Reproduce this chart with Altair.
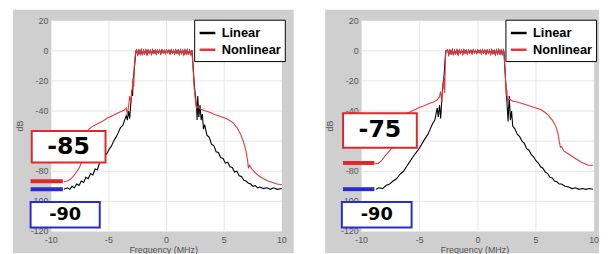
import altair as alt
import pandas as pd

# ---------------- data ----------------
SERIES = ["Linear", "Nonlinear"]
FREQ_TICKS = [-10, -5, 0, 5, 10]
DB_TICKS = [20, 0, -20, -40, -60, -80, -100, -120]
GRID_FREQ = [-5, 0, 5]
GRID_DB = [0, -20, -40, -60, -80, -100]

# passband ripple (shared shape in both panels)
PASSBAND = [(-2.6, 0.5), (-2.5, -2.5), (-2.4, 0.3), (-2.3, -2.0), (-2.2, 0.6), (-2.1, -2.8),
            (-2.0, 0.2), (-1.9, -1.8), (-1.8, 0.5), (-1.7, -2.4), (-1.6, 0.4), (-1.5, -1.6),
            (-1.4, 0.3), (-1.3, -2.2), (-1.2, 0.5), (-1.1, -1.5), (-1.0, 0.2), (-0.9, -2.0),
            (-0.8, 0.4), (-0.7, -1.4), (-0.6, 0.3), (-0.5, -1.9), (-0.4, 0.5), (-0.3, -1.3),
            (-0.2, 0.2), (-0.1, -1.7), (0.0, 0.4), (0.1, -1.2), (0.2, 0.3), (0.3, -1.8),
            (0.4, 0.5), (0.5, -1.4), (0.6, 0.2), (0.7, -2.0), (0.8, 0.4), (0.9, -1.5),
            (1.0, 0.3), (1.1, -2.2), (1.2, 0.5), (1.3, -1.7), (1.4, 0.2), (1.5, -2.4),
            (1.6, 0.4), (1.7, -1.9), (1.8, 0.5), (1.9, -2.6), (2.0, 0.3), (2.1, -2.2), (2.2, 0.4)]

# panel A (left, -85 / -90)
A_LIN_LO = [(-8.9, -92.0), (-8.6, -91.0), (-8.4, -92.0), (-8.2, -90.0), (-8.0, -91.0), (-7.8, -88.5),
            (-7.6, -89.5), (-7.4, -86.5), (-7.2, -87.5), (-7.0, -84.0), (-6.8, -85.0), (-6.6, -81.5),
            (-6.4, -82.5), (-6.2, -78.5), (-6.0, -79.0), (-5.8, -74.0), (-5.6, -73.0), (-5.4, -70.0),
            (-5.2, -68.5), (-5.0, -65.5), (-4.8, -63.5), (-4.6, -60.0), (-4.4, -57.5), (-4.2, -54.5),
            (-4.0, -51.0), (-3.8, -49.5), (-3.6, -45.0), (-3.5, -43.0), (-3.4, -46.0), (-3.3, -40.0),
            (-3.2, -45.0), (-3.1, -34.0), (-3.0, -26.0), (-2.95, -30.0), (-2.9, -20.0), (-2.8, -12.0),
            (-2.7, -3.0), (-2.65, 0.0)]
A_LIN_HI = [(2.3, -10.0), (2.4, -22.0), (2.5, -30.0), (2.6, -38.0), (2.65, -46.0), (2.7, -30.0),
            (2.8, -44.0), (2.9, -36.0), (3.0, -46.0), (3.1, -42.0), (3.2, -52.0), (3.3, -49.0),
            (3.5, -56.0), (3.7, -57.5), (3.9, -62.0), (4.1, -63.0), (4.3, -67.0), (4.5, -67.5),
            (4.7, -71.0), (4.9, -71.5), (5.1, -74.5), (5.3, -74.0), (5.5, -77.0), (5.7, -77.5),
            (5.9, -80.5), (6.1, -80.0), (6.3, -83.0), (6.5, -83.5), (6.7, -86.0), (6.9, -86.5),
            (7.1, -88.0), (7.3, -88.5), (7.5, -90.0), (7.7, -89.5), (7.9, -91.0), (8.1, -90.5),
            (8.4, -91.5), (8.7, -91.0), (9.0, -92.0), (9.3, -91.0), (9.6, -92.0), (10.0, -91.5)]
A_NON_LO = [(-8.9, -87.0), (-8.6, -86.5), (-8.3, -85.0), (-8.0, -82.5), (-7.6, -78.0), (-7.3, -73.0),
            (-7.0, -64.0), (-6.75, -52.0), (-6.4, -50.0), (-6.0, -48.5), (-5.6, -47.0), (-5.2, -45.0),
            (-4.8, -43.5), (-4.4, -42.0), (-4.0, -40.5), (-3.7, -39.5), (-3.5, -38.0), (-3.4, -42.0),
            (-3.3, -37.0), (-3.2, -30.0), (-3.1, -35.0), (-3.0, -26.0), (-2.9, -18.0), (-2.85, -24.0),
            (-2.8, -10.0), (-2.7, -2.0), (-2.65, 0.0)]
A_NON_HI = [(2.3, -12.0), (2.4, -25.0), (2.5, -33.0), (2.6, -38.0), (2.7, -37.0), (3.0, -39.0),
            (3.4, -40.0), (3.8, -41.0), (4.2, -42.5), (4.6, -43.5), (5.0, -44.5), (5.4, -46.0),
            (5.8, -48.0), (6.1, -51.0), (6.4, -55.0), (6.7, -61.0), (6.9, -67.0), (7.05, -74.0),
            (7.1, -78.0), (7.2, -76.0), (7.4, -78.5), (7.7, -81.0), (8.0, -83.0), (8.4, -85.0),
            (8.8, -86.5), (9.2, -87.5), (9.6, -88.5), (10.0, -89.0)]

# panel B (right, -75 / -90)
B_LIN_LO = [(-8.75, -92.0), (-8.5, -91.0), (-8.2, -91.5), (-7.9, -89.5), (-7.6, -88.5), (-7.3, -86.5),
            (-7.0, -85.0), (-6.7, -82.0), (-6.4, -80.0), (-6.1, -76.5), (-5.8, -73.0), (-5.5, -69.5),
            (-5.2, -66.5), (-4.9, -63.0), (-4.6, -59.0), (-4.3, -55.5), (-4.1, -52.0), (-3.9, -48.5),
            (-3.7, -46.0), (-3.6, -42.0), (-3.5, -38.0), (-3.4, -44.0), (-3.3, -36.0), (-3.2, -45.0),
            (-3.1, -32.0), (-3.0, -22.0), (-2.9, -16.0), (-2.8, -4.0), (-2.75, 0.0)]
B_LIN_HI = [(2.25, -1.0), (2.35, -15.0), (2.45, -28.0), (2.55, -40.0), (2.6, -47.0), (2.7, -30.0),
            (2.8, -46.0), (2.9, -40.0), (3.0, -50.0), (3.2, -52.0), (3.4, -55.5), (3.6, -57.0),
            (3.8, -60.0), (4.0, -61.5), (4.2, -65.0), (4.4, -66.0), (4.6, -69.0), (4.8, -70.5),
            (5.0, -73.0), (5.2, -74.5), (5.4, -77.0), (5.6, -78.0), (5.8, -80.5), (6.0, -81.5),
            (6.2, -84.0), (6.4, -84.5), (6.6, -86.5), (6.8, -87.0), (7.0, -88.5), (7.2, -88.5),
            (7.5, -90.0), (7.8, -90.5), (8.1, -91.5), (8.4, -91.0), (8.7, -92.0), (9.0, -91.5),
            (9.3, -92.0), (9.6, -91.5), (9.9, -92.0)]
B_NON_LO = [(-8.9, -75.0), (-8.6, -75.0), (-8.3, -73.0), (-8.0, -70.0), (-7.6, -66.5), (-7.2, -63.0),
            (-6.8, -57.0), (-6.4, -48.0), (-6.1, -41.5), (-5.8, -40.5), (-5.4, -39.0), (-5.0, -37.5),
            (-4.6, -36.5), (-4.2, -35.0), (-3.8, -34.0), (-3.5, -32.5), (-3.3, -30.5), (-3.2, -27.0),
            (-3.1, -34.0), (-3.0, -24.0), (-2.9, -18.0), (-2.85, -28.0), (-2.8, -8.0), (-2.75, 0.0)]
B_NON_HI = [(2.25, -1.0), (2.35, -14.0), (2.4, -22.0), (2.45, -30.0), (2.5, -26.0), (2.55, -33.0),
            (2.7, -32.0), (3.0, -33.5), (3.4, -34.0), (3.8, -35.0), (4.2, -36.0), (4.6, -37.0),
            (5.0, -38.0), (5.4, -39.0), (5.8, -41.0), (6.1, -43.0), (6.4, -46.0), (6.7, -50.0),
            (6.9, -55.0), (7.0, -60.0), (7.1, -64.0), (7.2, -63.5), (7.4, -66.5), (7.7, -68.0),
            (8.0, -69.5), (8.3, -71.0), (8.6, -72.5), (8.9, -74.0), (9.2, -75.0), (9.5, -76.0),
            (9.9, -76.0)]

# annotation boxes: (f1, f2, db1, db2, text, colour-key, font size)
A_BOXES = [(-11.7, -5.3, -53.3, -74.2, "-85", "red", 24), (-11.8, -5.8, -100.4, -117.4, "-90", "blue", 18)]
B_BOXES = [(-11.6, -5.25, -41.5, -64.4, "-75", "red", 24), (-11.7, -5.7, -100.4, -117.4, "-90", "blue", 18)]
# level bars: (f1, f2, db, colour-key)
A_BARS = [(-11.8, -9.0, -86.6, "red"), (-11.8, -9.0, -91.9, "blue")]
B_BARS = [(-11.6, -8.9, -74.5, "red"), (-11.6, -8.9, -91.9, "blue")]

# ---------------- styling ----------------
GRAY = "#cfcfcf"
GRID = "#e6e6e6"
RED_LINE = "#e8363a"
KEYCOL = {"red": "#e02828", "blue": "#2a2ad2"}
TICK_COL = "#555555"
FONT = "Liberation Sans"
H = 214


def curves(lo_lin, hi_lin, lo_non, hi_non):
    rows = []
    for name, pts in (("Linear", lo_lin + PASSBAND + hi_lin), ("Nonlinear", lo_non + PASSBAND + hi_non)):
        for i, (f, d) in enumerate(pts):
            rows.append({"f": f, "db": d, "series": name, "i": i})
    return pd.DataFrame(rows)


def panel(curve_df, boxes, bars, W, left_ext, right_ext, legend_x):
    xs = alt.Scale(domain=[-10, 10], nice=False, zero=False)
    ys = alt.Scale(domain=[-120, 20], nice=False, zero=False)
    one = pd.DataFrame({"k": [0]})

    bg = alt.Chart(one).mark_rect(color=GRAY).encode(
        x=alt.value(-left_ext), x2=alt.value(W + right_ext), y=alt.value(-11), y2=alt.value(H + 22))
    plot_bg = alt.Chart(one).mark_rect(color="white").encode(
        x=alt.value(0), x2=alt.value(W), y=alt.value(0), y2=alt.value(H))

    vgrid = alt.Chart(pd.DataFrame({"v": GRID_FREQ})).mark_rule(color=GRID, strokeWidth=1).encode(
        x=alt.X("v:Q", scale=xs, axis=None))
    hgrid = alt.Chart(pd.DataFrame({"v": GRID_DB})).mark_rule(color=GRID, strokeWidth=1).encode(
        y=alt.Y("v:Q", scale=ys, axis=None))

    lines = alt.Chart(curve_df).mark_line(strokeWidth=1.1).encode(
        x=alt.X("f:Q", scale=xs, axis=None),
        y=alt.Y("db:Q", scale=ys, axis=None),
        color=alt.Color("series:N", scale=alt.Scale(domain=SERIES, range=["#000000", RED_LINE]),
                        legend=alt.Legend(orient="none", legendX=legend_x, legendY=-1, title=None,
                                          labelFont=FONT, labelFontSize=13, labelFontWeight="bold",
                                          labelColor="black", symbolType="stroke", symbolSize=256,
                                          symbolStrokeWidth=2.5, padding=4, rowPadding=0,
                                          labelOffset=5, strokeColor="black", fillColor="white")),
        order=alt.Order("i:Q"),
    )

    ylab_df = pd.DataFrame({"v": DB_TICKS, "label": [str(v) for v in DB_TICKS]})
    ylabels = alt.Chart(ylab_df).mark_text(align="right", baseline="middle", fontSize=9, font=FONT,
                                            color=TICK_COL, dx=-3).encode(
        x=alt.value(0), y=alt.Y("v:Q", scale=ys, axis=None), text="label:N")
    xlab_df = pd.DataFrame({"v": FREQ_TICKS, "label": [str(v) for v in FREQ_TICKS]})
    xlabels = alt.Chart(xlab_df).mark_text(align="center", baseline="middle", fontSize=9, font=FONT,
                                            color=TICK_COL).encode(
        x=alt.X("v:Q", scale=xs, axis=None), y=alt.value(H + 9), text="label:N")
    ytitle = alt.Chart(one).mark_text(text="dB", angle=270, align="center", baseline="middle",
                                      fontSize=9, font=FONT, color=TICK_COL).encode(
        x=alt.value(-32), y=alt.value(H / 2))
    xtitle = alt.Chart(one).mark_text(text="Frequency (MHz)", align="center", baseline="top",
                                      fontSize=9, font=FONT, color=TICK_COL).encode(
        x=alt.value(W / 2 - 3), y=alt.value(H + 15))

    bar_df = pd.DataFrame([{"f1": a, "f2": b, "d": d, "c": KEYCOL[c]} for a, b, d, c in bars])
    bar_marks = alt.Chart(bar_df).mark_rule(strokeWidth=4).encode(
        x=alt.X("f1:Q", scale=xs, axis=None), x2="f2:Q",
        y=alt.Y("d:Q", scale=ys, axis=None), stroke=alt.Stroke("c:N", scale=None))

    box_df = pd.DataFrame([{"f1": a, "f2": b, "d1": d1, "d2": d2, "t": t, "c": KEYCOL[c], "fs": fs,
                            "fm": (a + b) / 2, "dm": (d1 + d2) / 2} for a, b, d1, d2, t, c, fs in boxes])
    box_marks = alt.Chart(box_df).mark_rect(fill="white", strokeWidth=2).encode(
        x=alt.X("f1:Q", scale=xs, axis=None), x2="f2:Q",
        y=alt.Y("d1:Q", scale=ys, axis=None), y2="d2:Q",
        stroke=alt.Stroke("c:N", scale=None))
    box_text = alt.Chart(box_df).mark_text(font="DejaVu Sans", fontWeight="bold", color="black",
                                           align="center", baseline="middle").encode(
        x=alt.X("fm:Q", scale=xs, axis=None), y=alt.Y("dm:Q", scale=ys, axis=None),
        text="t:N", size=alt.Size("fs:Q", scale=None))

    return alt.layer(bg, plot_bg, vgrid, hgrid, lines, ylabels, xlabels, ytitle, xtitle,
                     bar_marks, box_marks, box_text).properties(width=W, height=H)


left = panel(curves(A_LIN_LO, A_LIN_HI, A_NON_LO, A_NON_HI), A_BOXES, A_BARS, 234, 39, 12, 145)
right = panel(curves(B_LIN_LO, B_LIN_HI, B_NON_LO, B_NON_HI), B_BOXES, B_BARS, 236, 37, 5, 146)

chart = (
    alt.hconcat(left, right, spacing=32)
    .resolve_scale(color="independent")
    .resolve_legend(color="independent")
    .properties(padding={"left": 5, "top": 0, "right": 0, "bottom": 0})
    .configure_view(stroke=None)
)

chart.save("out.html", embed_options={"renderer": "svg", "actions": False})
